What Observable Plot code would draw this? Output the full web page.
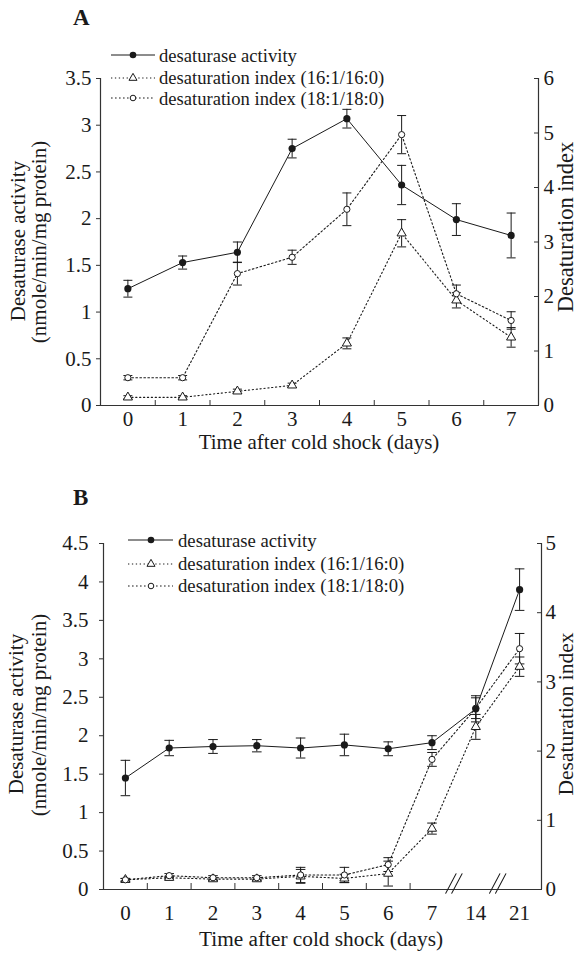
<!DOCTYPE html>
<html><head><meta charset="utf-8">
<script src="https://cdn.jsdelivr.net/npm/d3@7"></script>
<script src="https://cdn.jsdelivr.net/npm/@observablehq/plot@0.6"></script>
<style>
body{margin:0;background:#fff;}
#page{position:relative;width:579px;height:956px;font-family:"Liberation Serif","Times New Roman",serif;color:#1a1a1a;overflow:hidden;}
.panel{position:absolute;left:0;}
#overlay{position:absolute;left:0;top:0;pointer-events:none;}
</style></head><body><div id="page"></div>
<script>
// ---------- Panel A data ----------
const daysA = ["0","1","2","3","4","5","6","7"];
const activityA    = [1.25, 1.53, 1.64, 2.75, 3.07, 2.36, 1.99, 1.82];
const activityAErr = [0.09, 0.07, 0.11, 0.10, 0.10, 0.21, 0.17, 0.24];
const idx16A       = [0.15, 0.15, 0.26, 0.37, 1.14, 3.16, 1.93, 1.25];
const idx16AErr    = [0.03, 0.03, 0.04, 0.04, 0.10, 0.25, 0.14, 0.18];
const idx18A       = [0.51, 0.51, 2.42, 2.72, 3.60, 4.97, 2.05, 1.56];
const idx18AErr    = [0.04, 0.04, 0.21, 0.13, 0.30, 0.35, 0.16, 0.16];
const leftTicksA  = [0, 0.5, 1, 1.5, 2, 2.5, 3, 3.5];
const rightTicksA = [0, 1, 2, 3, 4, 5, 6];

// ---------- Panel B data ----------
const daysB = ["0","1","2","3","4","5","6","7","14","21"];
const activityB    = [1.45, 1.84, 1.86, 1.87, 1.84, 1.88, 1.83, 1.91, 2.35, 3.90];
const activityBErr = [0.23, 0.10, 0.09, 0.08, 0.13, 0.14, 0.09, 0.09, 0.17, 0.27];
const idx16B       = [0.14, 0.17, 0.15, 0.15, 0.19, 0.16, 0.23, 0.88, 2.35, 3.22];
const idx16BErr    = [0.02, 0.02, 0.02, 0.02, 0.10, 0.06, 0.18, 0.08, 0.18, 0.14];
const idx18B       = [0.14, 0.20, 0.17, 0.17, 0.21, 0.21, 0.36, 1.88, 2.62, 3.48];
const idx18BErr    = [0.02, 0.03, 0.03, 0.03, 0.11, 0.11, 0.10, 0.10, 0.15, 0.22];
const leftTicksB  = [0, 0.5, 1, 1.5, 2, 2.5, 3, 3.5, 4, 4.5];
const rightTicksB = [0, 1, 2, 3, 4, 5];
const axisBreaksB = [7.5, 8.5];

const legendLabels = ["desaturase activity", "desaturation index (16:1/16:0)", "desaturation index (18:1/18:0)"];
const xTitle = "Time after cold shock (days)";
const yTitle1 = "Desaturase activity";
const yTitle2 = "(nmole/min/mg protein)";
const rTitle = "Desaturation index";

const ink = "#1a1a1a";
const axisInk = "#333";
const cap = {draw(ctx, size){ const r = Math.sqrt(size/Math.PI); ctx.moveTo(-r,0); ctx.lineTo(r,0); }};
const slash = {draw(ctx, l){ ctx.moveTo(0,0); ctx.lineTo(0,-l); }};
const fmt = v => String(Math.round(v*10)/10);

function makePanel(c) {
  const k = c.yMax / c.rMax;
  const rows = (vals, errs, s) => vals.map((v,i) => ({x:i, y:v*s, lo:Math.max(0,(v-errs[i]))*s, hi:(v+errs[i])*s}));
  const act = rows(c.act, c.actErr, 1);
  const s16 = rows(c.i16, c.i16Err, k);
  const s18 = rows(c.i18, c.i18Err, k);
  const all = [...act, ...s16, ...s18];
  const n = c.labels.length;
  const xIdx = d3.range(n);
  const half = d3.range(0.5, c.halfMax + 0.01, 1);
  const marks = [
    Plot.line(s16, {x:"x", y:"y", stroke:ink, strokeWidth:1.1, strokeDasharray:"1.3,2.6"}),
    Plot.line(s18, {x:"x", y:"y", stroke:ink, strokeWidth:1.1, strokeDasharray:"1.6,2.4"}),
    Plot.line(act, {x:"x", y:"y", stroke:ink, strokeWidth:1}),
    Plot.ruleX(all, {x:"x", y1:"lo", y2:"hi", stroke:ink, strokeWidth:1}),
    Plot.dot(all, {x:"x", y:"lo", symbol:cap, r:c.capR, stroke:ink, strokeWidth:1}),
    Plot.dot(all, {x:"x", y:"hi", symbol:cap, r:c.capR, stroke:ink, strokeWidth:1}),
    Plot.dot(s16, {x:"x", y:"y", symbol:"triangle", r:3.4, fill:"white", stroke:ink, strokeWidth:1}),
    Plot.dot(s18, {x:"x", y:"y", r:3.1, fill:"white", stroke:ink, strokeWidth:1}),
    Plot.dot(act, {x:"x", y:"y", r:3.6, fill:ink}),
    Plot.ruleX([-0.5, n - 0.5], {stroke:axisInk, strokeWidth:1.2}),
    Plot.ruleY([0], {stroke:axisInk, strokeWidth:1.2}),
    Plot.axisY({ticks:c.leftTicks, tickSize:4, tickPadding:c.leftPad, tickFormat:fmt, label:null, stroke:axisInk}),
    Plot.axisY({anchor:"right", ticks:c.rightTicks.map(v=>v*k), tickSize:5, dx:-5, tickFormat:()=>"", label:null, stroke:axisInk}),
    Plot.axisY({anchor:"right", ticks:c.rightTicks.map(v=>v*k), tickSize:0, tickPadding:c.rightPad, tickFormat:v=>fmt(v/k), label:null}),
    Plot.axisX({ticks:half, tickSize:c.xTick, dy:-c.xTick, tickFormat:()=>"", label:null, stroke:axisInk}),
    Plot.axisX({ticks:xIdx, tickSize:0, tickPadding:c.xPad, tickFormat:i=>c.labels[i], label:null})
  ];
  if (c.breaks) {
    marks.push(Plot.vector(c.breaks, {x:d=>d, y:()=>0, length:22, rotate:28, anchor:"middle", shape:slash, dx:-3, dy:-6, stroke:ink, strokeWidth:1}));
    marks.push(Plot.vector(c.breaks, {x:d=>d, y:()=>0, length:22, rotate:28, anchor:"middle", shape:slash, dx:3, dy:-6, stroke:ink, strokeWidth:1}));
  }
  const svg = Plot.plot({
    width:579, height:c.height,
    marginTop:c.mt, marginBottom:c.mb, marginLeft:c.ml, marginRight:c.mr,
    x:{type:"linear", domain:[-0.5, n - 0.5]},
    y:{domain:[0, c.yMax]},
    style:{fontFamily:"'Liberation Serif','Times New Roman',serif", fontSize:"21px", color:ink, background:"transparent", overflow:"visible"},
    marks
  });
  svg.classList.add("panel");
  svg.style.top = c.top + "px";
  document.getElementById("page").appendChild(svg);
}

makePanel({labels:daysA, act:activityA, actErr:activityAErr, i16:idx16A, i16Err:idx16AErr, i18:idx18A, i18Err:idx18AErr,
  yMax:3.5, rMax:6, leftTicks:leftTicksA, rightTicks:rightTicksA, halfMax:6.5,
  top:0, height:470, mt:78, mb:65, ml:100, mr:41, leftPad:5, rightPad:5, xPad:6, xTick:5, capR:4.5});
makePanel({labels:daysB, act:activityB, actErr:activityBErr, i16:idx16B, i16Err:idx16BErr, i18:idx18B, i18Err:idx18BErr,
  yMax:4.5, rMax:5, leftTicks:leftTicksB, rightTicks:rightTicksB, halfMax:6.5, breaks:axisBreaksB,
  top:470, height:486, mt:73, mb:67, ml:103, mr:38, leftPad:11, rightPad:4, xPad:16, xTick:6, capR:4.8});

// ---------- text & legends ----------
const ov = d3.select("#page").append("svg").attr("id","overlay").attr("width",579).attr("height",956)
  .style("font-family","'Liberation Serif','Times New Roman',serif");
function txt(x, y, s, size, opts={}) {
  ov.append("text").attr("transform",`translate(${x},${y}) rotate(${opts.rotate||0})`)
    .attr("text-anchor", opts.anchor||"start").attr("font-size", size)
    .attr("font-weight", opts.weight||"normal").attr("fill", ink).text(s);
}
txt(73, 25, "A", 23, {weight:"bold"});
txt(73, 505, "B", 23, {weight:"bold"});
txt(319, 449, xTitle, 21, {anchor:"middle"});
txt(321, 946, xTitle, 21.3, {anchor:"middle"});
txt(25, 241, yTitle1, 21, {anchor:"middle", rotate:-90});
txt(46, 242, yTitle2, 21, {anchor:"middle", rotate:-90});
txt(23, 714, yTitle1, 21, {anchor:"middle", rotate:-90});
txt(46, 715, yTitle2, 21, {anchor:"middle", rotate:-90});
txt(573, 227, rTitle, 22.5, {anchor:"middle", rotate:-90});
txt(573, 714, rTitle, 21.5, {anchor:"middle", rotate:-90});

function legend(x0, x1, xm, xt, ys, bs, size) {
  const styles = [null, "1.3,2.6", "1.6,2.4"];
  ys.forEach((y, i) => {
    const l = ov.append("line").attr("x1",x0).attr("x2",x1).attr("y1",y).attr("y2",y)
      .attr("stroke",ink).attr("stroke-width", i ? 1.1 : 1);
    if (styles[i]) l.attr("stroke-dasharray", styles[i]);
    if (i === 0) ov.append("circle").attr("cx",xm).attr("cy",y).attr("r",3.3).attr("fill",ink);
    else if (i === 1) ov.append("path").attr("d", d3.symbol(d3.symbolTriangle, 28)()).attr("transform",`translate(${xm},${y})`).attr("fill","white").attr("stroke",ink);
    else ov.append("circle").attr("cx",xm).attr("cy",y).attr("r",2.8).attr("fill","white").attr("stroke",ink);
    txt(xt, bs[i], legendLabels[i], size);
  });
}
legend(111, 155, 133, 159, [55, 78, 98], [62, 84, 105], 18.6);
legend(128, 173, 151, 178, [540, 564, 586], [547, 570, 592], 18.7);
</script></body></html>
